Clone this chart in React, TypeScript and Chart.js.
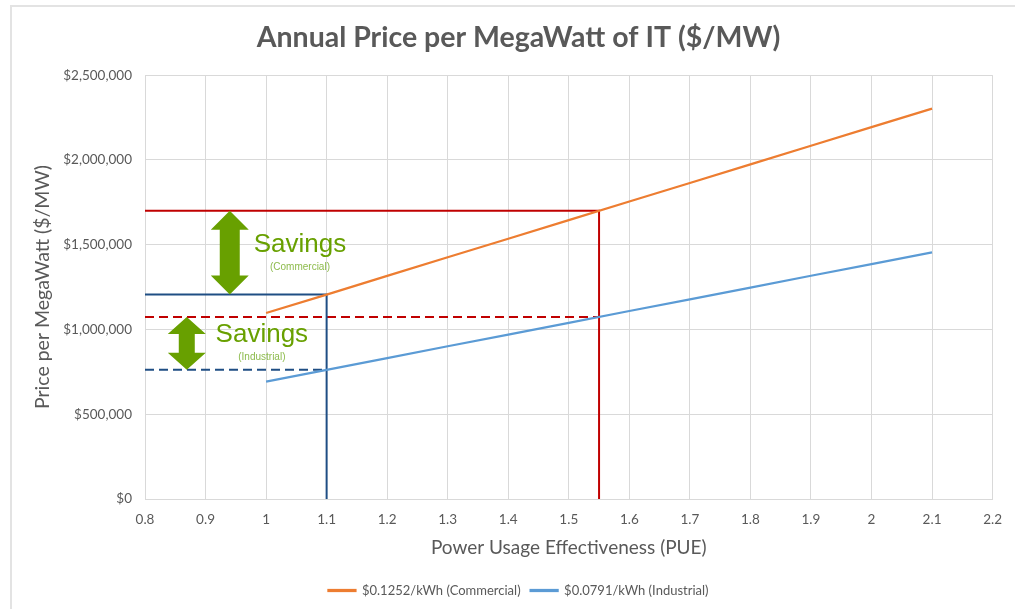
import React, { useEffect, useRef } from "react";
import { Chart, registerables } from "chart.js";

Chart.register(...registerables);

// ---- data ----
const pue = [1.0, 1.1, 1.2, 1.3, 1.4, 1.5, 1.6, 1.7, 1.8, 1.9, 2.0, 2.1];
const commercial = [1097000, 1206000, 1316000, 1426000, 1535000, 1645000, 1755000, 1864000, 1974000, 2084000, 2194000, 2303000];
const industrial = [693000, 762000, 831000, 901000, 970000, 1039000, 1109000, 1178000, 1247000, 1317000, 1386000, 1455000];
const seriesNames = ["$0.1252/kWh (Commercial)", "$0.0791/kWh (Industrial)"];

// reference PUE values and the matching annual prices
const refPue = [1.55, 1.1];
const refCommercial = [1700000, 1206000];
const refIndustrial = [1074000, 762000];

const xTicks = { min: 0.8, max: 2.2, step: 0.1 };
const yTicks = { min: 0, max: 2500000, step: 500000 };

const savingsTexts = ["Savings", "Savings"];
const savingsSubTexts = ["(Commercial)", "(Industrial)"];

// annotation placement (value space)
const arrowX = [0.94, 0.869];
const labelX = [1.056, 0.993];
const labelY = [1500000, 967000];
const subLabelY = [1368000, 838000];

const GREEN = "#68A000";
const RED = "#C00000";
const NAVY = "#1F4E84";
const TXT = "#595959";
const GRID = "#D9D9D9";

const arrowPlugin = {
  id: "savingsArrows",
  afterDatasetsDraw(chart: any) {
    const { ctx, scales } = chart;
    const xs = scales.x, ys = scales.y;
    const shapes = [
      { top: refCommercial[0], bot: refCommercial[1], hw: 19, hh: 19, sw: 10 },
      { top: refIndustrial[0], bot: refIndustrial[1], hw: 19, hh: 17, sw: 8 },
    ];
    ctx.save();
    shapes.forEach((s, i) => {
      const cx = xs.getPixelForValue(arrowX[i]);
      const yt = ys.getPixelForValue(s.top);
      const yb = ys.getPixelForValue(s.bot);
      ctx.beginPath();
      ctx.moveTo(cx, yt);
      ctx.lineTo(cx + s.hw, yt + s.hh);
      ctx.lineTo(cx + s.sw, yt + s.hh);
      ctx.lineTo(cx + s.sw, yb - s.hh);
      ctx.lineTo(cx + s.hw, yb - s.hh);
      ctx.lineTo(cx, yb);
      ctx.lineTo(cx - s.hw, yb - s.hh);
      ctx.lineTo(cx - s.sw, yb - s.hh);
      ctx.lineTo(cx - s.sw, yt + s.hh);
      ctx.lineTo(cx - s.hw, yt + s.hh);
      ctx.closePath();
      ctx.fillStyle = GREEN;
      ctx.fill();

      const lx = xs.getPixelForValue(labelX[i]);
      ctx.textAlign = "center";
      ctx.textBaseline = "middle";
      ctx.fillStyle = GREEN;
      ctx.font = "26px 'Liberation Sans', Arial, sans-serif";
      ctx.fillText(savingsTexts[i], lx, ys.getPixelForValue(labelY[i]));
      ctx.fillStyle = "#8DBB4C";
      ctx.font = "10px 'Liberation Sans', Arial, sans-serif";
      ctx.fillText(savingsSubTexts[i], lx, ys.getPixelForValue(subLabelY[i]));
    });
    ctx.restore();
  },
};

export default function App() {
  const ref = useRef<HTMLCanvasElement | null>(null);

  useEffect(() => {
    if (!ref.current) return;
    const guide = (pts: { x: number; y: number }[], color: string, dash: number[]) => ({
      type: "line" as const,
      label: "",
      data: pts,
      borderColor: color,
      backgroundColor: color,
      borderWidth: 2,
      borderDash: dash,
      pointRadius: 0,
      tension: 0,
    });
    const chart = new Chart(ref.current, {
      type: "line",
      data: {
        datasets: [
          {
            label: seriesNames[0],
            data: pue.map((x, i) => ({ x, y: commercial[i] })),
            borderColor: "#ED7D31",
            backgroundColor: "#ED7D31",
            borderWidth: 2.25,
            pointRadius: 0,
            tension: 0,
            order: 0,
          },
          {
            label: seriesNames[1],
            data: pue.map((x, i) => ({ x, y: industrial[i] })),
            borderColor: "#5B9BD5",
            backgroundColor: "#5B9BD5",
            borderWidth: 2.25,
            pointRadius: 0,
            tension: 0,
            order: 0,
          },
          guide(
            [
              { x: xTicks.min, y: refCommercial[0] },
              { x: refPue[0], y: refCommercial[0] },
              { x: refPue[0], y: 0 },
            ],
            RED,
            []
          ),
          guide(
            [
              { x: xTicks.min, y: refCommercial[1] },
              { x: refPue[1], y: refCommercial[1] },
              { x: refPue[1], y: 0 },
            ],
            NAVY,
            []
          ),
          guide(
            [
              { x: xTicks.min, y: refIndustrial[0] },
              { x: refPue[0], y: refIndustrial[0] },
            ],
            RED,
            [9, 5]
          ),
          guide(
            [
              { x: xTicks.min, y: refIndustrial[1] },
              { x: refPue[1], y: refIndustrial[1] },
            ],
            NAVY,
            [9, 5]
          ),
        ],
      },
      options: {
        animation: false,
        responsive: false,
        layout: { padding: { left: 22, right: 0, top: 0, bottom: 2 } },
        plugins: {
          title: {
            display: true,
            text: "Annual Price per MegaWatt of IT ($/MW)",
            color: TXT,
            font: { family: "Lato", size: 28.5, weight: "bold" },
            padding: { top: 21, bottom: 20 },
          },
          legend: {
            position: "bottom",
            labels: {
              color: TXT,
              font: { family: "Lato", size: 13 },
              boxWidth: 27,
              boxHeight: 1,
              padding: 10,
              filter: (item: any) => item.datasetIndex < 2,
            },
          },
          tooltip: { enabled: false },
        },
        scales: {
          x: {
            type: "linear",
            min: xTicks.min,
            max: xTicks.max,
            ticks: {
              stepSize: xTicks.step,
              color: TXT,
              font: { family: "Lato", size: 13.5 },
              padding: 13,
              callback: (v: any) => String(Number(Number(v).toFixed(1))),
            },
            grid: { color: GRID, drawTicks: false },
            border: { color: GRID },
            title: {
              display: true,
              text: "Power Usage Effectiveness (PUE)",
              color: TXT,
              font: { family: "Lato", size: 19 },
              padding: { top: 0, bottom: 15 },
            },
            afterFit: (s: any) => {
              s.height = 75;
            },
          },
          y: {
            min: yTicks.min,
            max: yTicks.max,
            ticks: {
              stepSize: yTicks.step,
              color: TXT,
              font: { family: "Lato", size: 13.5 },
              padding: 13,
              callback: (v: any) => "$" + Number(v).toLocaleString("en-US"),
            },
            grid: { color: GRID, drawTicks: false },
            border: { color: GRID },
            title: {
              display: true,
              text: "Price per MegaWatt ($/MW)",
              color: TXT,
              font: { family: "Lato", size: 19.5 },
              padding: { top: 9, bottom: 0 },
            },
            afterFit: (s: any) => {
              s.width = 123;
            },
          },
          yPad: {
            type: "linear",
            position: "right",
            display: true,
            grid: { display: false, drawOnChartArea: false, drawTicks: false },
            border: { display: false },
            ticks: { display: false },
            afterFit: (s: any) => {
              s.width = 22;
            },
          },
        },
      },
      plugins: [arrowPlugin],
    } as any);
    return () => chart.destroy();
  }, []);

  return (
    <div style={{ position: "fixed", left: 0, top: 0, width: 1015, height: 609, background: "#fff" }}>
      <div
        style={{
          position: "absolute",
          left: 10,
          top: 5,
          right: 0,
          bottom: 0,
          borderLeft: "2px solid #E3E3E3",
          borderTop: "2px solid #E3E3E3",
        }}
      />
      <canvas ref={ref} width={1015} height={609} style={{ position: "absolute", left: 0, top: 0, display: "block" }} />
    </div>
  );
}
